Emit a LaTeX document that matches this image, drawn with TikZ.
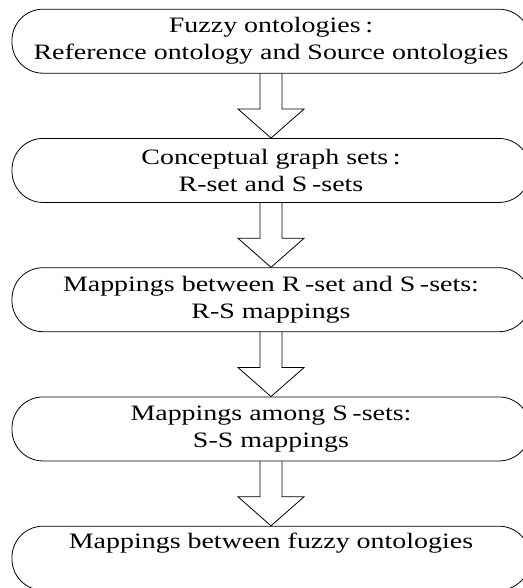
\documentclass[tikz,border=0pt]{standalone}
\usepackage{fontspec}
\setmainfont{Liberation Serif}
\usetikzlibrary{calc}
% horizontally widened text line
\newcommand{\wideline}[1]{\scalebox{1.27}[1]{#1}}
\tikzset{
  stage/.style={draw=black, line width=0.8pt, rounded corners=31pt,
    minimum width=518pt, minimum height=64pt, inner sep=0pt,
    align=center, font=\fontsize{22}{27}\selectfont},
  stagetext/.style={inner sep=0pt, font=\fontsize{22}{27}\selectfont},
  blockarrow/.style={draw=black, line width=0.8pt, line join=miter}
}
\newcommand{\hollowarrow}[2]{%
  \draw[blockarrow] ([xshift=-11pt]#1.south)
    |- ([xshift=-33pt,yshift=29pt]#2.north) -- (#2.north)
    -- ([xshift=33pt,yshift=29pt]#2.north) -| ([xshift=11pt]#1.south);
}
\begin{document}
\begin{tikzpicture}[x=1pt,y=1pt]
  \useasboundingbox (0,0) rectangle (522,-588);

  \node[stage] (b1) at (271,-41.2)
    {\wideline{Fuzzy ontologies\,:}\\\wideline{Reference ontology and Source ontologies}};
  \node[stage] (b2) at (271,-170.45)
    {\wideline{Conceptual graph sets\,:}\\\wideline{R-set and S\,-sets}};
  \node[stage] (b3) at (271,-299.7)
    {\wideline{Mappings between R\,-set and S\,-sets:}\\\wideline{R-S mappings}};
  \node[stage] (b4) at (271,-428.95)
    {\wideline{Mappings among S\,-sets:}\\\wideline{S-S mappings}};
  \node[stage] (b5) at (271,-558.2) {};
  \node[stagetext, anchor=base] (t5) at ([yshift=10pt]b5.center)
    {\wideline{Mappings between fuzzy ontologies}};

  \hollowarrow{b1}{b2}
  \hollowarrow{b2}{b3}
  \hollowarrow{b3}{b4}
  \hollowarrow{b4}{b5}
\end{tikzpicture}
\end{document}
